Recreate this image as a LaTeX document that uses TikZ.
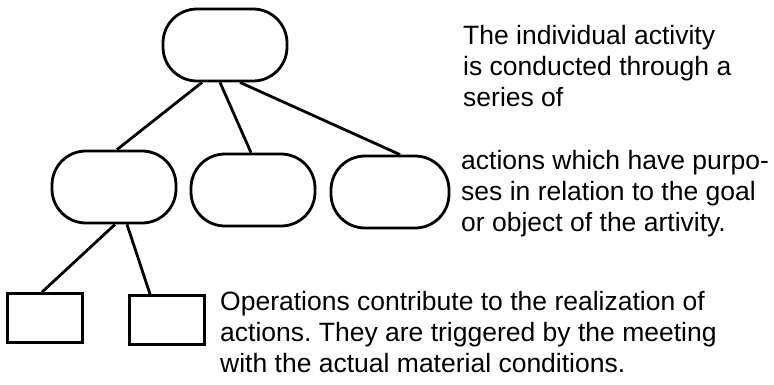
\documentclass[tikz,border=0pt]{standalone}
\usepackage{fontspec}
\setmainfont{Liberation Sans}
\usepackage{tikz}
\usetikzlibrary{positioning}
\tikzset{
	act/.style = {draw, line width=2.8pt, rounded corners=34pt, minimum width=124pt, minimum height=72pt, inner sep=0pt},
	oper/.style = {draw, line width=2.8pt, minimum width=75pt, minimum height=49pt, inner sep=0pt},
	link/.style = {line width=2.8pt},
	note/.style = {anchor=north west, align=left, inner sep=0pt, font=\fontsize{26.5}{31}\selectfont}
}
\frenchspacing
\begin{document}
\begin{tikzpicture}[x=1pt,y=-1pt]
		
		%%Location
		\useasboundingbox (0,0) rectangle (774,384);
		
		%%Activity
		\node[act] (activity) at (225,45) {};
		
		%%Actions
		\node[act] (action1) at (114,187) {};
		\node[act] (action2) at (253,190) {};
		\node[act, minimum width=118pt] (action3) at (390,192) {};
		
		%%Operations
		\node[oper] (oper1) at (45,318) {};
		\node[oper] (oper2) at (167,320) {};
		
		%%Links
		\draw[link] ([xshift=-23pt]activity.south) -- ([xshift=3pt]action1.north);
		\draw[link] ([xshift=-5pt]activity.south) -- ([xshift=-2pt]action2.north);
		\draw[link] ([xshift=15pt]activity.south) -- ([xshift=10pt]action3.north);
		\draw[link] ([xshift=1pt]action1.south) -- ([xshift=-3pt]oper1.north);
		\draw[link] ([xshift=13pt]action1.south) -- ([xshift=-17pt]oper2.north);
		
		%%Texts
		\node[note] (noteact) at (463,25) {The individual activity\\is conducted through a\\series of};
		\node[note] (noteaction) at (461,150) {actions which have purpo-\\ses in relation to the goal\\or object of the artivity.};
		\node[note] (noteoper) at (220,291) {Operations contribute to the realization of\\actions. They are triggered by the meeting\\with the actual material conditions.};
		
\end{tikzpicture}
\end{document}
